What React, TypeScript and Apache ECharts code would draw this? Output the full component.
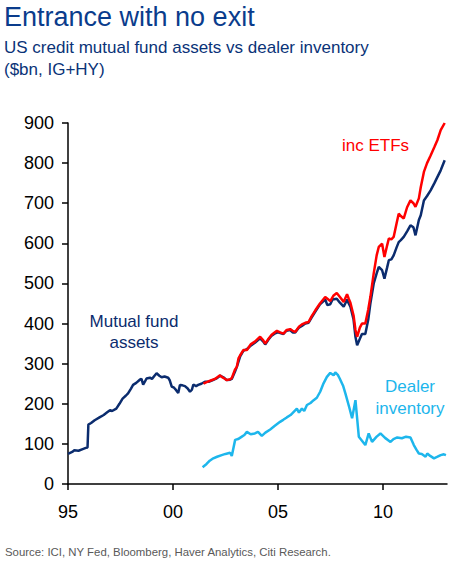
import { useRef, useEffect } from "react";
import * as echarts from "echarts";

const FONT = "Liberation Sans, Arial, sans-serif";

// Mutual fund assets ($bn)
const fundYears = [
  1995.0, 1995.2, 1995.3, 1995.5, 1995.7, 1995.85, 1995.93, 1995.97, 1996.1, 1996.27,
  1996.5, 1996.7, 1996.85, 1997.0, 1997.1, 1997.3, 1997.45, 1997.6, 1997.75, 1997.86,
  1998.0, 1998.1, 1998.25, 1998.42, 1998.5, 1998.58, 1998.66, 1998.74, 1998.9, 1999.0,
  1999.14, 1999.22, 1999.35, 1999.46, 1999.6, 1999.77, 1999.85, 1999.94, 2000.05, 2000.15,
  2000.25, 2000.33, 2000.45, 2000.57, 2000.7, 2000.81, 2000.9, 2000.97, 2001.1, 2001.2,
  2001.35, 2001.52, 2001.7, 2001.9, 2002.1, 2002.24, 2002.4, 2002.56, 2002.72, 2002.8,
  2002.95, 2003.04, 2003.2, 2003.35, 2003.52, 2003.7, 2003.9, 2004.15, 2004.3, 2004.39,
  2004.55, 2004.7, 2004.87, 2005.0, 2005.26, 2005.4, 2005.58, 2005.7, 2005.82, 2006.0,
  2006.14, 2006.3, 2006.46, 2006.6, 2006.78, 2007.0, 2007.25, 2007.35, 2007.49, 2007.6,
  2007.8, 2007.95, 2008.13, 2008.22, 2008.29, 2008.37, 2008.45, 2008.6, 2008.69, 2008.77,
  2008.9, 2009.0, 2009.16, 2009.3, 2009.4, 2009.56, 2009.7, 2009.8, 2009.96, 2010.07,
  2010.2, 2010.28, 2010.4, 2010.51, 2010.65, 2010.75, 2010.85, 2010.99, 2011.15, 2011.31,
  2011.45, 2011.55, 2011.71, 2011.8, 2011.95, 2012.1, 2012.27, 2012.45, 2012.59, 2012.75,
  2012.94,
];
const fundValues = [
  75, 80, 84, 83, 87, 90, 91, 148, 152, 159,
  166, 172, 178, 184, 182, 188, 200, 213, 220, 226,
  238, 247, 252, 260, 262, 248, 255, 263, 265, 262,
  271, 276, 270, 266, 268, 265, 258, 243, 240, 234,
  227, 247, 246, 244, 238, 230, 235, 248, 244, 247,
  250, 255, 255, 259, 264, 270, 266, 259, 260, 262,
  280, 292, 318, 332, 336, 345, 352, 363, 355, 348,
  360, 370, 376, 378, 374, 382, 384, 378, 378, 390,
  394, 400, 402, 415, 430, 448, 460, 446, 448, 460,
  462, 452, 442, 452, 460, 450, 442, 410, 367, 346,
  362, 374, 374, 410, 450, 500, 525, 541, 533, 512,
  540, 558, 560, 570, 590, 603, 608, 616, 630, 645,
  640, 620, 658, 670, 707, 718, 732, 750, 765, 782,
  807,
];

// Mutual fund assets including ETFs ($bn)
const etfYears = [
  2001.45, 2001.6, 2001.8, 2002.0, 2002.24, 2002.32, 2002.45, 2002.56, 2002.72, 2002.8,
  2002.95, 2003.04, 2003.12, 2003.2, 2003.35, 2003.52, 2003.7, 2003.9, 2004.15, 2004.3,
  2004.39, 2004.55, 2004.7, 2004.87, 2004.95, 2005.1, 2005.26, 2005.42, 2005.58, 2005.7,
  2005.82, 2006.0, 2006.14, 2006.3, 2006.46, 2006.6, 2006.78, 2007.0, 2007.25, 2007.4,
  2007.49, 2007.65, 2007.8, 2007.95, 2008.13, 2008.22, 2008.29, 2008.37, 2008.45, 2008.6,
  2008.69, 2008.77, 2008.9, 2009.0, 2009.16, 2009.3, 2009.4, 2009.56, 2009.7, 2009.8,
  2009.96, 2010.07, 2010.2, 2010.28, 2010.4, 2010.51, 2010.65, 2010.75, 2010.85, 2010.99,
  2011.15, 2011.31, 2011.45, 2011.55, 2011.71, 2011.8, 2011.95, 2012.1, 2012.27, 2012.45,
  2012.59, 2012.75, 2012.94,
];
const etfValues = [
  250, 254, 258, 262, 271, 267, 263, 259, 261, 264,
  285, 292, 313, 321, 334, 334, 348, 355, 367, 358,
  350, 362, 372, 379, 382, 378, 375, 384, 386, 382,
  379, 392, 398, 402, 404, 418, 433, 450, 466, 460,
  456, 470, 476, 466, 454, 465, 473, 462, 452, 420,
  384, 367, 390, 400, 400, 435, 466, 525, 570, 591,
  599, 566, 595, 612, 610, 616, 650, 674, 668, 662,
  690, 707, 700, 691, 712, 740, 778, 800, 819, 840,
  857, 882, 900,
];

// Dealer inventory ($bn)
const dealerYears = [
  2001.41, 2001.6, 2001.75, 2001.92, 2002.1, 2002.32, 2002.5, 2002.72, 2002.8, 2002.96,
  2003.1, 2003.28, 2003.4, 2003.52, 2003.7, 2003.9, 2004.05, 2004.23, 2004.4, 2004.63,
  2004.85, 2005.1, 2005.25, 2005.42, 2005.6, 2005.75, 2005.9, 2006.0, 2006.14, 2006.25,
  2006.38, 2006.55, 2006.7, 2006.85, 2007.01, 2007.17, 2007.33, 2007.49, 2007.65, 2007.73,
  2007.85, 2007.94, 2008.1, 2008.21, 2008.4, 2008.53, 2008.69, 2008.85, 2009.0, 2009.16,
  2009.32, 2009.48, 2009.7, 2009.88, 2010.1, 2010.36, 2010.5, 2010.68, 2010.9, 2011.1,
  2011.31, 2011.47, 2011.6, 2011.71, 2011.85, 2012.03, 2012.11, 2012.25, 2012.43, 2012.6,
  2012.75, 2012.9, 2013.0,
];
const dealerValues = [
  42, 50, 58, 64, 68, 72, 75, 78, 70, 110,
  112, 118, 122, 130, 124, 126, 130, 120, 128, 136,
  145, 155, 160, 166, 172, 180, 188, 178, 188, 182,
  197, 202, 209, 215, 230, 251, 267, 277, 271, 278,
  272, 263, 245, 226, 190, 164, 209, 118, 108, 97,
  126, 105, 118, 126, 115, 105, 112, 116, 114, 118,
  116, 97, 85, 76, 75, 68, 76, 70, 64, 68,
  72, 74, 72,
];

const xTicks = [1995, 2000, 2005, 2010];

const zip = (xs: number[], ys: number[]) => xs.map((x, i) => [x, ys[i]]);

export default function App() {
  const chartRef = useRef<HTMLDivElement>(null);

  useEffect(() => {
    document.body.style.margin = "0";
    if (!chartRef.current) return;
    const chart = echarts.init(chartRef.current, null, { renderer: "svg" });

    chart.setOption({
      animation: false,
      backgroundColor: "#fff",
      textStyle: { fontFamily: FONT },
      title: [
        {
          text: "Entrance with no exit",
          left: 4,
          top: 3,
          padding: 0,
          textStyle: { fontSize: 27, fontWeight: "normal", color: "#0A3C8C", fontFamily: FONT },
        },
        {
          text: "US credit mutual fund assets vs dealer inventory\n($bn, IG+HY)",
          left: 4,
          top: 36,
          padding: 0,
          textStyle: { fontSize: 17, lineHeight: 22, fontWeight: "normal", color: "#0A3378", fontFamily: FONT },
        },
      ],
      grid: { left: 68, right: 10, top: 123, bottom: 79, containLabel: false },
      xAxis: {
        type: "value",
        min: 1995,
        max: 2013.05,
        interval: 5,
        axisLine: { lineStyle: { color: "#000", width: 1.5 } },
        axisTick: { show: true, inside: false, length: 6, lineStyle: { color: "#000", width: 1.5 } },
        axisLabel: {
          color: "#000",
          fontSize: 18,
          margin: 19,
          showMaxLabel: false,
          formatter: (v: number) => (xTicks.includes(v) ? String(v).slice(2) : ""),
        },
        splitLine: { show: false },
      },
      yAxis: {
        type: "value",
        min: 0,
        max: 900,
        interval: 100,
        axisLine: { show: true, lineStyle: { color: "#000", width: 1.5 } },
        axisTick: { show: true, inside: false, length: 6, lineStyle: { color: "#000", width: 1.5 } },
        axisLabel: { color: "#000", fontSize: 18, margin: 14 },
        splitLine: { show: false },
      },
      series: [
        {
          name: "Mutual fund assets",
          type: "line",
          data: zip(fundYears, fundValues),
          showSymbol: false,
          lineStyle: { color: "#0B2C6E", width: 2.5 },
          z: 2,
        },
        {
          name: "inc ETFs",
          type: "line",
          data: zip(etfYears, etfValues),
          showSymbol: false,
          lineStyle: { color: "#FF0000", width: 2.5 },
          z: 3,
        },
        {
          name: "Dealer inventory",
          type: "line",
          data: zip(dealerYears, dealerValues),
          showSymbol: false,
          lineStyle: { color: "#1DB6EC", width: 2.5 },
          z: 2,
        },
      ],
      graphic: [
        {
          type: "text",
          x: 134,
          y: 311,
          style: {
            text: "Mutual fund\nassets",
            fill: "#0B2C6E",
            font: `17px ${FONT}`,
            lineHeight: 21,
            align: "center",
          },
        },
        {
          type: "text",
          x: 342,
          y: 137,
          style: { text: "inc ETFs", fill: "#FF0000", font: `17px ${FONT}` },
        },
        {
          type: "text",
          x: 410,
          y: 375,
          style: {
            text: "Dealer\ninventory",
            fill: "#1DB6EC",
            font: `17px ${FONT}`,
            lineHeight: 22,
            align: "center",
          },
        },
        {
          type: "text",
          x: 5,
          y: 546,
          style: {
            text: "Source: ICI, NY Fed, Bloomberg, Haver Analytics, Citi Research.",
            fill: "#595959",
            font: `11.4px ${FONT}`,
          },
        },
      ],
    });

    return () => {
      chart.dispose();
    };
  }, []);

  return <div ref={chartRef} style={{ width: "457px", height: "563px" }} />;
}
